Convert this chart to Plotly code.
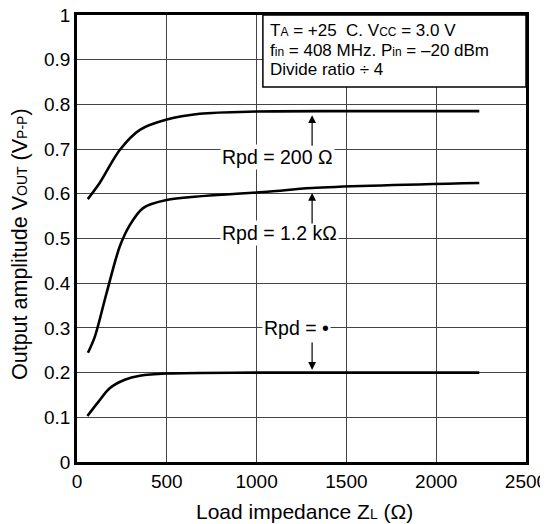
import plotly.graph_objects as go

# Load impedance (ohm) and output amplitude (Vp-p)
z_200 = [60, 126, 238, 350, 500, 683, 1000, 1500, 2240]
v_200 = [0.588, 0.624, 0.698, 0.743, 0.766, 0.779, 0.784, 0.785, 0.785]

z_1k2 = [61, 99, 164, 238, 294, 368, 498, 1074, 1310, 2240]
v_1k2 = [0.2445, 0.280, 0.377, 0.482, 0.530, 0.568, 0.586, 0.605, 0.613, 0.624]

z_inf = [58, 120, 182, 266, 350, 500, 1000, 2240]
v_inf = [0.103, 0.135, 0.165, 0.184, 0.193, 0.198, 0.200, 0.200]

x_ticks = [0, 500, 1000, 1500, 2000, 2500]
y_ticks = [0, 0.1, 0.2, 0.3, 0.4, 0.5, 0.6, 0.7, 0.8, 0.9, 1]
y_tick_text = ["0", "0.1", "0.2", "0.3", "0.4", "0.5", "0.6", "0.7", "0.8", "0.9", "1"]

FONT = "Liberation Sans, Arial, sans-serif"
FS = 19
SUB = "<span style='font-size:{}px'>{}</span>"

fig = go.Figure()
for zs, vs in [(z_200, v_200), (z_1k2, v_1k2), (z_inf, v_inf)]:
    fig.add_trace(go.Scatter(x=zs, y=vs, mode="lines",
                             line=dict(color="black", width=2.6, shape="spline", smoothing=0.9),
                             showlegend=False, hoverinfo="skip"))

axis_common = dict(ticks="", showgrid=True, gridcolor="#444", gridwidth=1, showline=True,
                   linecolor="black", linewidth=2.6, mirror=True, zeroline=False, automargin=False,
                   tickfont=dict(size=FS), ticklabeloverflow="allow")
# page has an 8px body margin, so the figure is 540x516 placed at (8, 8)
fig.update_layout(
    width=540, height=516,
    margin=dict(l=69, r=22, t=7, b=62, autoexpand=False),
    paper_bgcolor="white", plot_bgcolor="white",
    font=dict(family=FONT, size=FS, color="black"),
    xaxis=dict(range=[0, 2500], tickvals=x_ticks, **axis_common),
    yaxis=dict(range=[0, 1], tickvals=y_ticks, ticktext=y_tick_text, ticklabelstandoff=0, **axis_common),
)

# axis titles
fig.add_annotation(text="Load impedance Z" + SUB.format(14, "L") + " (Ω)", xref="paper", yref="paper",
                   x=0.506, y=(462 - 512) / 447, xanchor="center", yanchor="middle", showarrow=False,
                   font=dict(size=21))
fig.add_annotation(text="Output amplitude V" + SUB.format(14, "OUT") + " (V" + SUB.format(14, "P-P") + ")",
                   xref="paper", yref="paper", x=(20 - 77) / 449, y=(462 - 244) / 447, xanchor="center",
                   yanchor="middle", textangle=-90, showarrow=False, font=dict(size=21.5))

# condition box
fig.add_shape(type="rect", xref="paper", yref="paper", x0=0.414, x1=1, y0=0.839, y1=1,
              fillcolor="white", line=dict(color="black", width=1.5), layer="above")
lines = [
    "T" + SUB.format(12, "A") + " = +25  C. V" + SUB.format(12, "CC") + " = 3.0 V",
    "f" + SUB.format(12, "in") + " = 408 MHz. P" + SUB.format(12, "in") + " = –20 dBm",
    "Divide ratio ÷ 4",
]
for i, t in enumerate(lines):
    fig.add_annotation(text=t, xref="paper", yref="paper", x=0.425, y=(462 - (31 + 19.5 * i)) / 447,
                       xanchor="left", yanchor="middle", showarrow=False, font=dict(size=17))

# curve labels
labels = [("Rpd = 200 Ω", 1115, 0.682), ("Rpd = 1.2 kΩ", 1128, 0.512), ("Rpd = •", 1221, 0.300)]
for t, x, y in labels:
    fig.add_annotation(text=t, x=x, y=y, showarrow=False, bgcolor="white", borderpad=1, font=dict(size=19.5))

# arrows (head at x,y; tail offset in px)
arrows = [(1309, 0.776, 32), (1309, 0.602, 32), (1309, 0.206, -29)]
for x, y, ay in arrows:
    fig.add_annotation(text="", x=x, y=y, ax=0, ay=ay, showarrow=True, arrowhead=2, arrowsize=1.3,
                       arrowwidth=1.2, arrowcolor="black", standoff=0)

fig.write_html("out.html")
